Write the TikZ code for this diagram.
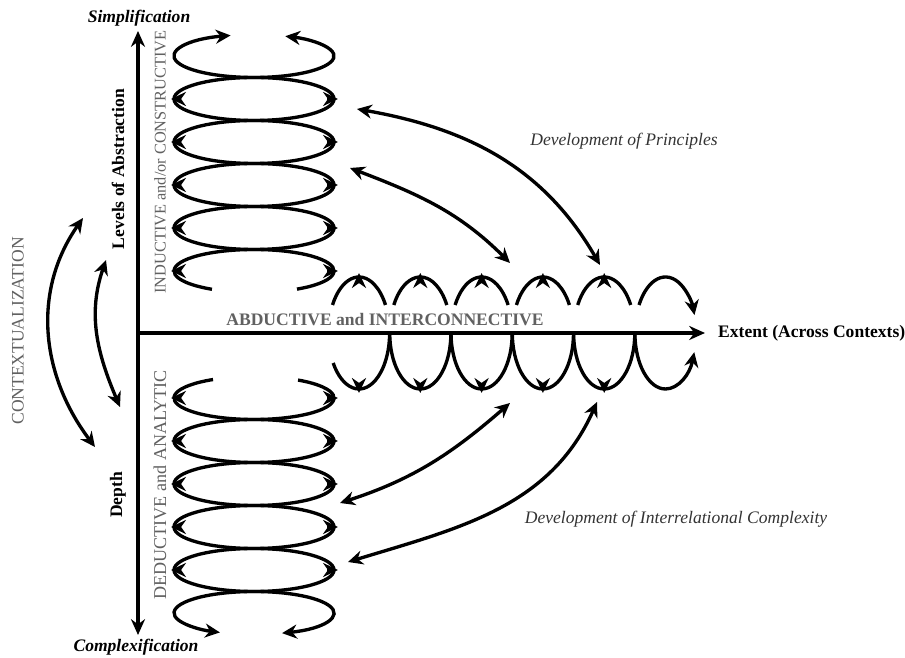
\documentclass[tikz,border=0pt]{standalone}
\usepackage{fontspec}
\setmainfont{Liberation Serif}
\usetikzlibrary{arrows.meta}

\begin{document}
\begin{tikzpicture}[x=0.02cm, y=0.02cm, >={Stealth[length=8.5pt, width=8pt]},
	coil/.style={line width=1.9pt},
	tip/.style={line width=1.9pt, ->},
	axis/.style={line width=1.9pt, >={Stealth[length=9pt, width=8pt]}},
	graytext/.style={text=black!62}]
				\useasboundingbox (0,0) rectangle (905,658);
				
				% Axes
				\coordinate (O) at (138,325);
				\coordinate (top) at (138,627);
				\coordinate (bottom) at (138,23);
				\coordinate (right) at (705,325);
				\draw[axis, <->] (bottom) -- (top);
				\draw[axis, ->] (O) -- (right);
				
				% Axis labels
				\node[font=\bfseries\itshape] (simp) at (139,640) {Simplification};
				\node[font=\bfseries\itshape] (comp) at (136,11) {Complexification};
				\node[font=\bfseries, anchor=west] (extent) at (712,325) {Extent (Across Contexts)};
				\node[font=\bfseries, rotate=90] (levels) at (118,489) {Levels of Abstraction};
				\node[font=\bfseries, rotate=90] (depth) at (118,163) {Depth};
				\node[graytext, font=\fontsize{9.3}{11}\selectfont, rotate=90] (induct) at (160,496) {INDUCTIVE and/or CONSTRUCTIVE};
				\node[graytext, font=\fontsize{10.3}{12}\selectfont, rotate=90] (deduct) at (160,173) {DEDUCTIVE and ANALYTIC};
				\node[graytext, rotate=90] (context) at (18,327) {CONTEXTUALIZATION};
				\node[graytext, font=\bfseries] (abduct) at (385,338) {ABDUCTIVE and INTERCONNECTIVE};
				\node[font=\itshape, text=black!80] (princ) at (624,517) {Development of Principles};
				\node[font=\itshape, text=black!80] (complex) at (676,139) {Development of Interrelational Complexity};
				
				% Upper coil
				\draw[coil, <->] (254,602) ++(107:80 and 21.5) arc[start angle=107, end angle=427, x radius=80, y radius=21.5];
				\foreach \cy in {559,516,473,430} {
					\draw[coil] (254,\cy) ellipse[x radius=80, y radius=21.5];
				}
				\draw[coil] (254,387) ++(302.5:80 and 21.5) arc[start angle=302.5, end angle=598.3, x radius=80, y radius=21.5];
				\foreach \cy in {559,516,473,430,387} {
					\draw[tip] (181,\cy) -- (171,\cy);
					\draw[tip] (327,\cy) -- (338,\cy);
				}
				
				% Lower coil
				\draw[coil] (254,260) ++(120.8:80 and 21.5) arc[start angle=120.8, end angle=416.6, x radius=80, y radius=21.5];
				\foreach \cy in {217,174,131,88} {
					\draw[coil] (254,\cy) ellipse[x radius=80, y radius=21.5];
				}
				\draw[coil, <->] (254,45) ++(290.5:80 and 21.5) arc[start angle=290.5, end angle=604.8, x radius=80, y radius=21.5];
				\foreach \cy in {260,217,174,131,88} {
					\draw[tip] (181,\cy) -- (171,\cy);
					\draw[tip] (327,\cy) -- (338,\cy);
				}
				
				% Horizontal coil
				\foreach \cx in {359,420.3,481.6,542.9,604.2} {
					\draw[coil] (\cx,325) ++(150:30.6 and 56) arc[start angle=150, end angle=30, x radius=30.6, y radius=56];
					\draw[tip] (\cx,375) -- (\cx,385);
					\draw[tip] (\cx,275) -- (\cx,265);
				}
				\foreach \cx in {420.3,481.6,542.9,604.2} {
					\draw[coil] (\cx,325) ++(180:30.6 and 56) arc[start angle=180, end angle=360, x radius=30.6, y radius=56];
				}
				\draw[coil] (359,325) ++(212.4:30.6 and 56) arc[start angle=212.4, end angle=360, x radius=30.6, y radius=56];
				\draw[coil, ->] (665.5,325) ++(150:30.6 and 56) arc[start angle=150, end angle=18.7, x radius=30.6, y radius=56];
				\draw[coil, ->] (665.5,325) ++(180:30.6 and 56) arc[start angle=180, end angle=340, x radius=30.6, y radius=56];
				
				% Contextualization
				\coordinate (ctx1) at (83,440);
				\coordinate (ctx2) at (95,211);
				\coordinate (ctx3) at (106,398);
				\coordinate (ctx4) at (120,251);
				\draw[coil, <->] (ctx1) to[out=235, in=127] (ctx2);
				\draw[coil, <->] (ctx3) to[out=251, in=113] (ctx4);
				
				% Development arrows
				\coordinate (pa1) at (357,549);
				\coordinate (pa2) at (600,393);
				\coordinate (pb1) at (350,490);
				\coordinate (pb2) at (510,395);
				\coordinate (ca1) at (340,155);
				\coordinate (ca2) at (510,255);
				\coordinate (cb1) at (348,96);
				\coordinate (cb2) at (597,256);
				\draw[coil, <->] (pa1) to[out=-10, in=120] (pa2);
				\draw[coil, <->] (pb1) to[out=-21, in=135] (pb2);
				\draw[coil, <->] (ca1) to[out=18, in=221] (ca2);
				\draw[coil, <->] (cb1) to[out=17, in=246] (cb2);
			\end{tikzpicture}
\end{document}
